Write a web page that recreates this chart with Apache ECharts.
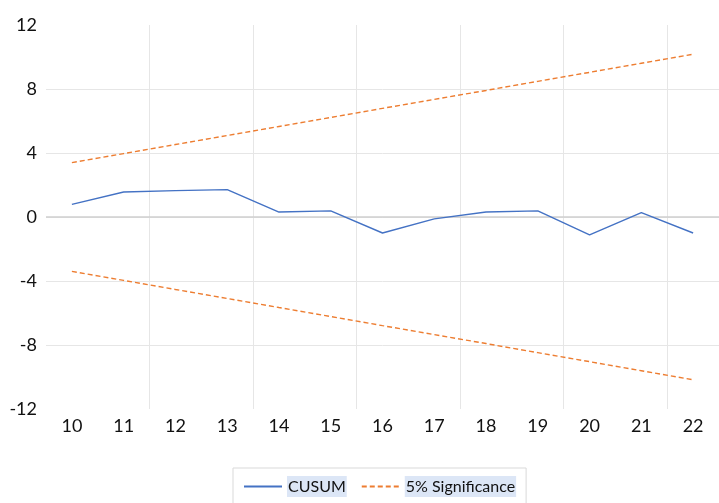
<!DOCTYPE html>
<html>
<head>
<meta charset="utf-8">
<script src="https://cdn.jsdelivr.net/npm/echarts@6/dist/echarts.min.js"></script>
<style>
html,body{margin:0;padding:0;background:#fff;}
#chart{width:719px;height:503px;}
</style>
</head>
<body>
<div id="chart"></div>
<script>
const categories = ['10','11','12','13','14','15','16','17','18','19','20','21','22'];
const cusum = [0.79, 1.56, 1.65, 1.71, 0.31, 0.38, -1.0, -0.12, 0.31, 0.38, -1.12, 0.27, -1.0];
const upper = [3.40, 3.96, 4.53, 5.09, 5.66, 6.22, 6.79, 7.35, 7.91, 8.48, 9.04, 9.61, 10.17];
const lower = [-3.40, -3.96, -4.53, -5.09, -5.66, -6.22, -6.79, -7.35, -7.91, -8.48, -9.04, -9.61, -10.17];
const yTicks = { min: -12, max: 12, interval: 4 };

const FONT = 'Lato';
const chart = echarts.init(document.getElementById('chart'), null, { renderer: 'canvas' });
chart.setOption({
  animation: false,
  backgroundColor: '#ffffff',
  grid: { left: 46, top: 25, width: 681, height: 384, containLabel: false },
  xAxis: {
    type: 'category',
    data: categories,
    boundaryGap: true,
    axisLine: { show: false },
    axisTick: { show: false },
    axisLabel: { interval: 0, margin: 8, fontFamily: FONT, fontSize: 18, color: '#111' },
    splitLine: { show: true, interval: 1, showMinLine: false, lineStyle: { color: '#e6e6e6', width: 1 } }
  },
  yAxis: {
    type: 'value',
    min: yTicks.min, max: yTicks.max, interval: yTicks.interval,
    axisLine: { show: false },
    axisTick: { show: false },
    axisLabel: { margin: 9, fontFamily: FONT, fontSize: 18, color: '#111' },
    splitLine: { show: true, showMinLine: false, showMaxLine: false, lineStyle: { color: '#e6e6e6', width: 1 } }
  },
  legend: {
    left: 233, top: 468,
    padding: [8, 10, 12, 10],
    borderColor: '#d9d9d9', borderWidth: 1,
    itemWidth: 38, itemHeight: 10, itemGap: 14,
    itemStyle: { opacity: 0 },
    textStyle: { fontFamily: FONT, fontSize: 16, color: '#111', backgroundColor: '#dce6f6', padding: [3, 1, 2, 1] },
    data: ['CUSUM', '5% Significance']
  },
  series: [
    {
      name: 'CUSUM', type: 'line', data: cusum, symbol: 'none',
      lineStyle: { color: '#4472c4', width: 1.4 }, itemStyle: { color: '#4472c4' },
      z: 3,
      markLine: {
        silent: true, symbol: 'none', label: { show: false },
        lineStyle: { color: '#cfcfcf', width: 1.6, type: 'solid' },
        data: [{ yAxis: 0 }], z: 1
      }
    },
    {
      name: '5% Significance', type: 'line', data: upper, symbol: 'none',
      lineStyle: { color: '#ed7d31', width: 1.4, type: [5, 3] }, itemStyle: { color: '#ed7d31' }
    },
    {
      name: '5% Significance', type: 'line', data: lower, symbol: 'none',
      lineStyle: { color: '#ed7d31', width: 1.4, type: [5, 3] }, itemStyle: { color: '#ed7d31' }
    }
  ]
});
</script>
</body>
</html>
